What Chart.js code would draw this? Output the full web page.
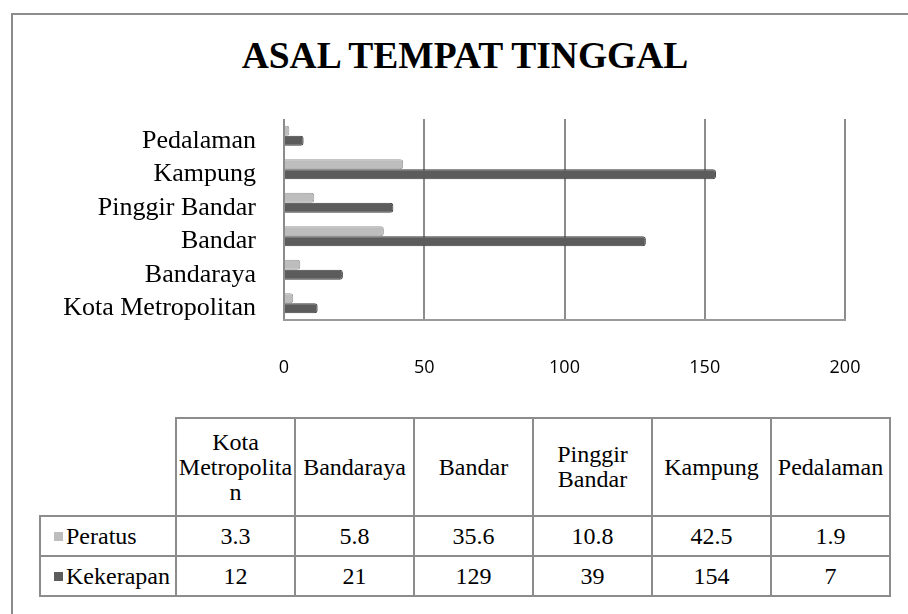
<!DOCTYPE html>
<html>
<head>
<meta charset="utf-8">
<script src="https://cdn.jsdelivr.net/npm/chart.js@4"></script>
<style>
  body { margin: 0; width: 908px; height: 614px; overflow: hidden; background: #fff; position: relative; }
  #frame { position: absolute; left: 11px; top: 13px; width: 1000px; height: 700px; border: 2px solid #8c8c8c; }
  #title {
    position: absolute; left: 165px; width: 600px; top: 34px; text-align: center; white-space: nowrap;
    font: bold 37.5px "Liberation Serif", "Times New Roman", serif; color: #000; line-height: 44px;
  }
  #chartWrap { position: absolute; left: 0; top: 0; width: 908px; height: 400px; }
  #dataTable {
    position: absolute; left: 39px; top: 417px; border-collapse: collapse; table-layout: fixed;
    font-family: "Liberation Serif", "Times New Roman", serif; font-size: 24px; color: #000;
  }
  #dataTable td { border: 2px solid #8c8c8c; text-align: center; padding: 0 1px; overflow-wrap: anywhere; line-height: 25px; }
  #dataTable tr.head td { height: 96px; }
  #dataTable tr.val td { height: 38px; }
  #dataTable td.blank { border: none; border-right: 2px solid #8c8c8c; border-bottom: 2px solid #8c8c8c; }
  #dataTable td.name { text-align: left; padding-left: 13px; white-space: nowrap; }
  .key { display: inline-block; width: 9px; height: 9px; margin-right: 3px; vertical-align: 3px; }
</style>
</head>
<body>
<div id="frame"></div>
<div id="title">ASAL TEMPAT TINGGAL</div>
<div id="chartWrap"><canvas id="asalChart" width="908" height="400"></canvas></div>
<table id="dataTable"></table>
<script>
const categories = ["Kota Metropolitan", "Bandaraya", "Bandar", "Pinggir Bandar", "Kampung", "Pedalaman"];
const seriesNames = ["Peratus", "Kekerapan"];
const peratus = [3.3, 5.8, 35.6, 10.8, 42.5, 1.9];
const kekerapan = [12, 21, 129, 39, 154, 7];
const xTicks = [0, 50, 100, 150, 200];
const seriesColors = ["#bdbdbd", "#5c5c5c"];

document.addEventListener("DOMContentLoaded", () => {
  drawChart();
  buildTable();
});

function drawChart() {
  const ctx = document.getElementById("asalChart").getContext("2d");
  new Chart(ctx, {
    type: "bar",
    data: {
      labels: categories,
      datasets: [
        { label: seriesNames[0], data: peratus, backgroundColor: seriesColors[0], borderColor: "#9a9a9a", borderWidth: 1, borderRadius: 3, borderSkipped: "left" },
        { label: seriesNames[1], data: kekerapan, backgroundColor: seriesColors[1], borderColor: "#3f3f3f", borderWidth: 1, borderRadius: 3, borderSkipped: "left" },
      ],
    },
    options: {
      indexAxis: "y",
      responsive: false,
      animation: false,
      categoryPercentage: 0.6,
      barPercentage: 0.98,
      layout: { padding: { left: 0, right: 63, top: 119, bottom: 19 } },
      plugins: {
        legend: { display: false },
        tooltip: { enabled: false },
        title: { display: false },
      },
      scales: {
        x: {
          min: 0,
          max: 200,
          afterBuildTicks: (scale) => { scale.ticks = xTicks.map(v => ({ value: v })); },
          afterFit: (scale) => { scale.height = 61; },
          ticks: { color: "#000", padding: 37, font: { family: "'Open Sans', sans-serif", size: 18 } },
          grid: { color: "#8c8c8c", lineWidth: 2, drawTicks: false },
          border: { display: true, color: "#9a9a9a", width: 2 },
        },
        y: {
          reverse: true,
          afterFit: (scale) => { scale.width = 284; },
          ticks: { color: "#000", padding: 28, labelOffset: 5, autoSkip: false, font: { family: "'Liberation Serif', 'Times New Roman', serif", size: 26 } },
          grid: { display: false, drawTicks: false },
          border: { display: false },
        },
      },
    },
  });
}

function buildTable() {
  const table = document.getElementById("dataTable");
  let html = '<colgroup><col style="width:136px">';
  categories.forEach(() => { html += '<col style="width:119px">'; });
  html += '</colgroup>';

  html += '<tr class="head"><td class="blank"></td>';
  categories.forEach(c => { html += `<td>${c}</td>`; });
  html += '</tr>';

  [peratus, kekerapan].forEach((vals, i) => {
    html += `<tr class="val"><td class="name"><span class="key" style="background:${seriesColors[i]}"></span>${seriesNames[i]}</td>`;
    vals.forEach(v => { html += `<td>${v}</td>`; });
    html += '</tr>';
  });
  table.innerHTML = html;
}
</script>
</body>
</html>
